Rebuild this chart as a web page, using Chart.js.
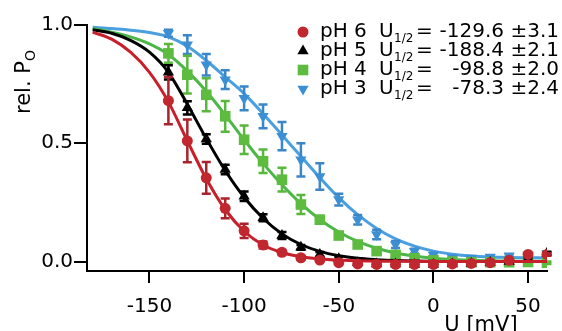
<!DOCTYPE html>
<html>
<head>
<meta charset="utf-8">
<script src="https://cdn.jsdelivr.net/npm/chart.js@4.4.1/dist/chart.umd.min.js"></script>
<style>
  html, body { margin: 0; padding: 0; background: #fff; }
  canvas { display: block; }
</style>
</head>
<body>
<canvas id="chart" width="562" height="331"></canvas>
<script>
// measured points (mV)
const voltages = [-140, -130, -120, -110, -100, -90, -80, -70, -60, -50, -40, -30, -20, -10, 0, 10, 20, 30, 40, 50, 60];
// fit curves sampled along U
const fitVoltages = [-180, -170, -160, -150, -140, -130, -120, -110, -100, -90, -80, -70, -60, -50, -40, -30, -20, -10, 0, 10, 20, 30, 40, 50, 60];

const ph6Values = [0.68, 0.51, 0.354, 0.225, 0.13, 0.07, 0.039, 0.016, 0.006, -0.005, -0.01, -0.012, -0.012, -0.012, -0.012, -0.01, -0.008, -0.005, 0.005, 0.03, 0.03];
const ph6Errors = [0.1, 0.09, 0.067, 0.042, 0.03, 0.015, 0.01, 0.008, 0.006, 0.005, 0.005, 0.005, 0.005, 0.005, 0.005, 0.005, 0.005, 0.005, 0.005, 0.005, 0.005];
const ph6Fit = [0.97, 0.94, 0.885, 0.8, 0.675, 0.51, 0.35, 0.22, 0.128, 0.07, 0.038, 0.02, 0.011, 0.006, 0.003, 0.002, 0.001, 0.001, 0, 0, 0, 0, 0, 0, 0];

const ph5Values = [0.8, 0.65, 0.518, 0.389, 0.276, 0.185, 0.11, 0.06, 0.03, 0.012, -0.005, -0.01, -0.01, -0.012, -0.012, -0.01, -0.008, -0.004, 0, 0.01, 0.035];
const ph5Errors = [0.03, 0.028, 0.02, 0.02, 0.02, 0.015, 0.015, 0.01, 0.01, 0.008, 0.006, 0.006, 0.006, 0.006, 0.006, 0.006, 0.006, 0.006, 0.006, 0.006, 0.006];
const ph5Fit = [0.98, 0.965, 0.935, 0.885, 0.8, 0.665, 0.52, 0.385, 0.272, 0.183, 0.117, 0.072, 0.043, 0.025, 0.014, 0.008, 0.004, 0.002, 0.001, 0, 0, 0, 0, 0, 0];

const ph4Values = [0.88, 0.79, 0.705, 0.614, 0.515, 0.424, 0.346, 0.241, 0.177, 0.11, 0.072, 0.044, 0.028, 0.014, 0.005, 0, -0.003, -0.003, -0.003, -0.002, -0.005];
const ph4Errors = [0.04, 0.08, 0.07, 0.065, 0.06, 0.05, 0.05, 0.04, 0.015, 0.012, 0.01, 0.008, 0.006, 0.006, 0.006, 0.005, 0.005, 0.005, 0.005, 0.005, 0.005];
const ph4Fit = [0.985, 0.97, 0.95, 0.92, 0.875, 0.805, 0.72, 0.62, 0.515, 0.415, 0.325, 0.245, 0.178, 0.125, 0.085, 0.056, 0.036, 0.023, 0.014, 0.009, 0.005, 0.003, 0.002, 0.001, 0.001];

const ph3Values = [0.965, 0.917, 0.832, 0.769, 0.69, 0.614, 0.53, 0.43, 0.36, 0.262, 0.177, 0.114, 0.072, 0.044, 0.028, 0.016, 0.015, 0.019, 0.025, 0.028, 0.033];
const ph3Errors = [0.015, 0.04, 0.045, 0.04, 0.05, 0.05, 0.06, 0.07, 0.056, 0.025, 0.02, 0.02, 0.015, 0.01, 0.008, 0.006, 0.006, 0.006, 0.006, 0.006, 0.006];
const ph3Fit = [0.99, 0.985, 0.978, 0.968, 0.95, 0.91, 0.85, 0.78, 0.71, 0.625, 0.535, 0.445, 0.355, 0.27, 0.198, 0.14, 0.096, 0.065, 0.044, 0.031, 0.023, 0.019, 0.017, 0.016, 0.015];

const seriesNames = ["pH 6", "pH 5", "pH 4", "pH 3"];
const halfVoltages = ["-129.6", "-188.4", "-98.8", "-78.3"];
const halfErrors = ["3.1", "2.1", "2.0", "2.4"];

const xTicks = [-150, -100, -50, 0, 50];
const yTicks = [0, 0.5, 1.0];

const series = [
  { values: ph6Values, errors: ph6Errors, fit: ph6Fit, marker: "#c0272e", line: "#c8202a", bar: "#a8232c", style: "circle", radius: 5.5, rotation: 0 },
  { values: ph5Values, errors: ph5Errors, fit: ph5Fit, marker: "#000000", line: "#000000", bar: "#000000", style: "triangle", radius: 6.5, rotation: 0 },
  { values: ph4Values, errors: ph4Errors, fit: ph4Fit, marker: "#5dbb3f", line: "#4cb748", bar: "#58b83c", style: "rect", radius: 7.5, rotation: 0 },
  { values: ph3Values, errors: ph3Errors, fit: ph3Fit, marker: "#3d8fd4", line: "#4a9fe0", bar: "#3a86c8", style: "triangle", radius: 6.5, rotation: 180 }
];

const datasets = [];
series.forEach((s, i) => {
  datasets.push({
    type: "line",
    data: fitVoltages.map((u, j) => ({ x: u, y: s.fit[j] })),
    borderColor: s.line,
    borderWidth: 3,
    pointRadius: 0,
    cubicInterpolationMode: "monotone",
    fill: false,
    order: 20 + i * 2 + 1
  });
  datasets.push({
    type: "scatter",
    data: voltages.map((u, j) => ({ x: u, y: s.values[j] })),
    errors: s.errors,
    barColor: s.bar,
    pointStyle: s.style,
    pointRadius: s.radius,
    rotation: s.rotation,
    backgroundColor: s.marker,
    borderColor: s.marker,
    borderWidth: 0,
    showLine: false,
    order: 20 + i * 2
  });
});

const errorBars = {
  id: "errorBars",
  beforeDatasetDraw(chart, args) {
    const ds = chart.data.datasets[args.index];
    if (!ds.errors) return;
    const { ctx, scales: { x, y } } = chart;
    ctx.save();
    ctx.strokeStyle = ds.barColor;
    ctx.lineWidth = 2.5;
    ds.data.forEach((p, i) => {
      const e = ds.errors[i];
      const px = x.getPixelForValue(p.x);
      const top = y.getPixelForValue(p.y + e);
      const bot = y.getPixelForValue(p.y - e);
      ctx.beginPath();
      ctx.moveTo(px, top); ctx.lineTo(px, bot);
      ctx.moveTo(px - 4.5, top); ctx.lineTo(px + 4.5, top);
      ctx.moveTo(px - 4.5, bot); ctx.lineTo(px + 4.5, bot);
      ctx.stroke();
    });
    ctx.restore();
  }
};

const labels = {
  id: "labels",
  afterDraw(chart) {
    const ctx = chart.ctx;
    ctx.save();
    ctx.textBaseline = "alphabetic";

    // legend
    series.forEach((s, i) => {
      const base = 37 + i * 19;
      ctx.fillStyle = s.marker;
      ctx.strokeStyle = s.marker;
      Chart.helpers.drawPoint(ctx, {
        pointStyle: s.style, radius: s.radius, rotation: s.rotation, borderWidth: 0
      }, 303, base - 5);
      ctx.fillStyle = "#000";
      ctx.textAlign = "left";
      ctx.font = "20px 'DejaVu Sans'";
      ctx.fillText(seriesNames[i], 320, base);
      ctx.fillText("U", 379, base);
      ctx.font = "12px 'DejaVu Sans'";
      ctx.fillText("1/2", 394, base + 5);
      ctx.font = "20px 'DejaVu Sans'";
      ctx.fillText("=", 416, base);
      ctx.textAlign = "right";
      ctx.fillText(halfVoltages[i] + " \u00b1" + halfErrors[i], 559, base);
    });

    // x title
    ctx.fillStyle = "#000";
    ctx.textAlign = "center";
    ctx.font = "21px 'DejaVu Sans'";
    ctx.fillText("U [mV]", 481, 331);

    // y title
    ctx.translate(30, 82);
    ctx.rotate(-Math.PI / 2);
    ctx.textAlign = "left";
    const main = "rel. P";
    ctx.font = "21px 'DejaVu Sans'";
    const w = ctx.measureText(main).width;
    ctx.font = "14px 'DejaVu Sans'";
    const ws = ctx.measureText("O").width;
    const start = -(w + ws) / 2;
    ctx.font = "21px 'DejaVu Sans'";
    ctx.fillText(main, start, 0);
    ctx.font = "14px 'DejaVu Sans'";
    ctx.fillText("O", start + w, 5);
    ctx.restore();
  }
};

new Chart(document.getElementById("chart"), {
  data: { datasets },
  plugins: [errorBars, labels],
  options: {
    responsive: false,
    animation: false,
    layout: { padding: { top: 25, right: 15, left: 0, bottom: 0 } },
    plugins: { legend: { display: false }, tooltip: { enabled: false } },
    scales: {
      x: {
        type: "linear",
        min: -183,
        max: 60,
        afterBuildTicks: s => { s.ticks = xTicks.map(v => ({ value: v })); },
        afterFit: s => { s.height = 60; },
        ticks: { color: "#000", font: { family: "DejaVu Sans", size: 20 }, padding: 12, maxRotation: 0, autoSkip: false },
        grid: { drawOnChartArea: false, drawTicks: true, tickLength: 12, color: "#000", lineWidth: 2 },
        border: { display: true, color: "#000", width: 2 }
      },
      y: {
        type: "linear",
        min: -0.04,
        max: 1.0,
        afterBuildTicks: s => { s.ticks = yTicks.map(v => ({ value: v })); },
        afterFit: s => { s.width = 87; },
        ticks: { color: "#000", font: { family: "DejaVu Sans", size: 20 }, padding: 1, callback: v => v.toFixed(1) },
        grid: { drawOnChartArea: false, drawTicks: true, tickLength: 13, color: "#000", lineWidth: 2 },
        border: { display: true, color: "#000", width: 2 }
      }
    }
  }
});
</script>
</body>
</html>
